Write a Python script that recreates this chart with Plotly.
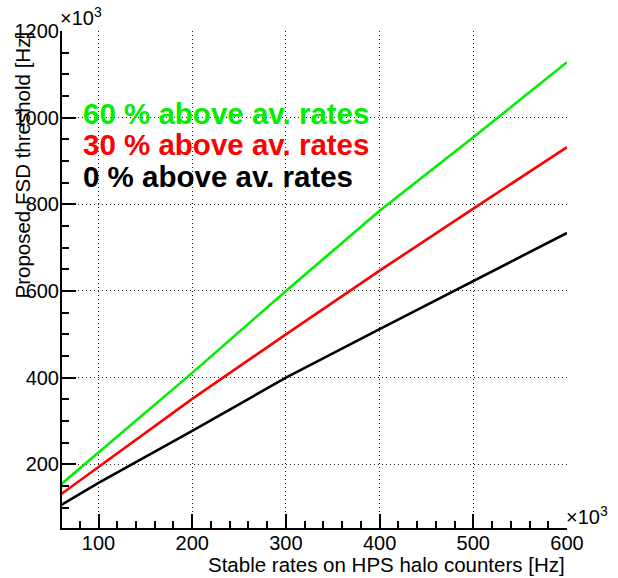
import plotly.graph_objects as go

# data (units of 10^3 Hz)
x_rates = [60, 100, 200, 300, 400, 500, 600]
thr_0 = [106, 157, 277, 400, 512, 623, 734]
thr_30 = [131, 194, 351, 500, 647, 790, 932]
thr_60 = [154, 228, 411, 600, 785, 955, 1128]
labels = ["60 % above av. rates", "30 % above av. rates", "0 % above av. rates"]
colors = ["#00ee00", "#ff0000", "#000000"]

W, H = 618, 578
L, R, T, B = 62, 51, 31, 50
PW, PH = W - L - R, H - T - B


def px(xp):
    return (xp - L) / PW


def py(yp):
    return 1 - (yp - T) / PH


fig = go.Figure()
for ys, c in zip([thr_60, thr_30, thr_0], colors):
    fig.add_trace(go.Scatter(x=x_rates, y=ys, mode="lines",
                             line=dict(color=c, width=2.6), showlegend=False))

font_family = "Liberation Sans, Arial, Helvetica, sans-serif"
axis_common = dict(
    showline=True, linecolor="black", linewidth=2,
    ticks="inside", ticklen=14, tickwidth=1.5, tickcolor="black",
    showgrid=True, gridcolor="#222222", griddash="1px,3px", gridwidth=1,
    zeroline=False,
    tickfont=dict(family=font_family, size=20, color="black"),
)
fig.update_xaxes(range=[61, 600], tick0=0, dtick=100, ticklabelstandoff=-4,
                 minor=dict(dtick=20, ticks="inside", ticklen=7, tickcolor="black", showgrid=False),
                 **axis_common)
fig.update_yaxes(range=[53, 1200], tick0=0, dtick=200, ticklabelstandoff=-3,
                 minor=dict(dtick=50, ticks="inside", ticklen=7, tickcolor="black", showgrid=False),
                 **axis_common)

ann = []
# legend-like texts
for txt, c, yp in zip(labels, colors, [114, 145, 176]):
    ann.append(dict(text=f"<b>{txt}</b>", x=px(81), y=py(yp), xref="paper", yref="paper",
                    xanchor="left", yanchor="middle", showarrow=False,
                    font=dict(family=font_family, size=29.5, color=c)))
# axis titles
ann.append(dict(text="Stable rates on HPS halo counters [Hz]", x=px(567), y=py(564),
                xref="paper", yref="paper", xanchor="right", yanchor="middle", showarrow=False,
                font=dict(family=font_family, size=20.5, color="black")))
ann.append(dict(text="Proposed FSD threshold [Hz]", x=px(22), y=py(30),
                xref="paper", yref="paper", xanchor="center", yanchor="top", textangle=-90,
                showarrow=False, font=dict(family=font_family, size=20.5, color="black")))
# exponent labels
ann.append(dict(text="×10<sup>3</sup>", x=px(58), y=py(31), xref="paper", yref="paper",
                xanchor="left", yanchor="bottom", showarrow=False,
                font=dict(family=font_family, size=20, color="black")))
ann.append(dict(text="×10<sup>3</sup>", x=px(564), y=py(530), xref="paper", yref="paper",
                xanchor="left", yanchor="bottom", showarrow=False,
                font=dict(family=font_family, size=20, color="black")))

fig.update_layout(
    width=W, height=H,
    margin=dict(l=L, r=R, t=T, b=B),
    paper_bgcolor="white", plot_bgcolor="white",
    annotations=ann, showlegend=False,
    font=dict(family=font_family, color="black"),
)
fig.write_html("out.html")
